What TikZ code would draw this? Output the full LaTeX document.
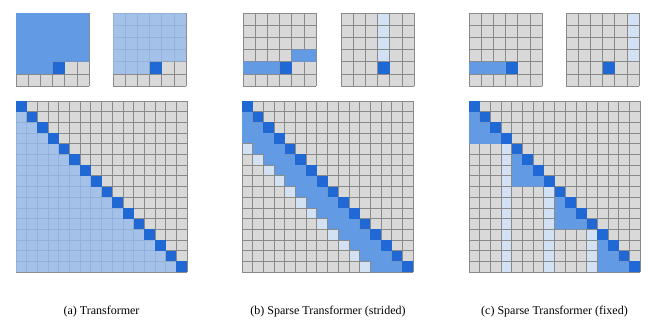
\documentclass[tikz,border=0pt]{standalone}
\usepackage{fontspec}
\setmainfont{Liberation Serif}
\definecolor{cellgrey}{RGB}{217,217,217}
\definecolor{linegrey}{RGB}{138,138,138}
\definecolor{qblue}{RGB}{32,104,212}
\definecolor{midblue}{RGB}{98,154,228}
\definecolor{triblue}{RGB}{150,188,238}
\definecolor{paleblue}{RGB}{210,226,244}
\tikzset{
  biggrid/.style   = {shift={#1}, x=8.016pt, y=-8.016pt},
  smallgrid/.style = {shift={#1}, x=9.125pt, y=-9.125pt},
  cell/.style  = {fill=cellgrey},
  gline/.style = {draw=linegrey, line width=0.5pt},
  qry/.style   = {fill=qblue},
  band/.style  = {fill=midblue},
  prev/.style  = {fill=triblue, fill opacity=0.8},
  pale/.style  = {fill=paleblue, draw=linegrey, line width=0.5pt},
  capt/.style  = {font=\fontsize{9}{11}\selectfont, inner sep=0pt}
}
% n x n board of grey cells
\newcommand\board[1]{%
  \fill[cell] (0,0) rectangle (#1,#1);
  \foreach \k in {0,...,#1} \draw[gline] (\k,0) -- (\k,#1) (0,\k) -- (#1,\k);}

\begin{document}
\begin{tikzpicture}[x=0.75pt,y=-0.75pt]
  \useasboundingbox (0,0) rectangle (665,329);
  % ---- (a) transformer ----
  \begin{scope}[smallgrid={(16,13)}]
    \board{6}
    \fill[band] (0,0) rectangle (6,4) (0,4) rectangle (3,5);
    \fill[qry] (3,4) rectangle ++(1,1);
  \end{scope}
  \begin{scope}[smallgrid={(113,13)}]
    \board{6}
    \fill[prev] (0,0) -- (6,0) -- (6,4) -- (3,4) -- (3,5) -- (0,5) -- cycle;
    \fill[qry] (3,4) rectangle ++(1,1);
  \end{scope}
  \begin{scope}[biggrid={(16,101)}]
    \board{16}
    \fill[prev] (0,1) \foreach \i in {1,...,15} { -- (\i,\i) -- (\i,\i+1) } -- (0,16) -- cycle;
    \foreach \i in {0,...,15} \fill[qry] (\i,\i) rectangle ++(1,1);
  \end{scope}
  \node[capt] (capa) at (101.5,312) {(a) Transformer};

  % ---- (b) strided ----
  \begin{scope}[smallgrid={(243,13)}]
    \board{6}
    \fill[band] (4,3) rectangle (6,4) (0,4) rectangle (3,5);
    \fill[qry] (3,4) rectangle ++(1,1);
  \end{scope}
  \begin{scope}[smallgrid={(341,13)}]
    \board{6}
    \foreach \i in {0,...,3} \filldraw[pale] (3,\i) rectangle ++(1,1);
    \fill[qry] (3,4) rectangle ++(1,1);
  \end{scope}
  \begin{scope}[biggrid={(242,101)}]
    \board{16}
    \fill[band] (0,1) \foreach \i in {1,...,15} { -- (\i,\i) -- (\i,\i+1) }
      \foreach \i in {15,...,4} { -- (\i-3,\i+1) -- (\i-3,\i) } -- (0,4) -- cycle;
    \foreach \i in {4,...,15} \filldraw[pale] (\i-4,\i) rectangle ++(1,1);
    \foreach \i in {0,...,15} \fill[qry] (\i,\i) rectangle ++(1,1);
  \end{scope}
  \node[capt] (capb) at (328,312) {(b) Sparse Transformer (strided)};

  % ---- (c) fixed ----
  \begin{scope}[smallgrid={(469,13)}]
    \board{6}
    \fill[band] (0,4) rectangle (3,5);
    \fill[qry] (3,4) rectangle ++(1,1);
  \end{scope}
  \begin{scope}[smallgrid={(566,13)}]
    \board{6}
    \foreach \i in {0,...,3} \filldraw[pale] (5,\i) rectangle ++(1,1);
    \fill[qry] (3,4) rectangle ++(1,1);
  \end{scope}
  \begin{scope}[biggrid={(469,101)}]
    \board{16}
    \foreach \b in {0,4,8,12}
      \fill[band] (\b,\b+1) -- (\b+1,\b+1) -- (\b+1,\b+2) -- (\b+2,\b+2) -- (\b+2,\b+3)
        -- (\b+3,\b+3) -- (\b+3,\b+4) -- (\b,\b+4) -- cycle;
    \foreach \c/\s in {3/4,7/8,11/12}
      \foreach \i in {\s,...,15} \filldraw[pale] (\c,\i) rectangle ++(1,1);
    \foreach \i in {0,...,15} \fill[qry] (\i,\i) rectangle ++(1,1);
  \end{scope}
  \node[capt] (capc) at (554.5,312) {(c) Sparse Transformer (fixed)};
\end{tikzpicture}
\end{document}
